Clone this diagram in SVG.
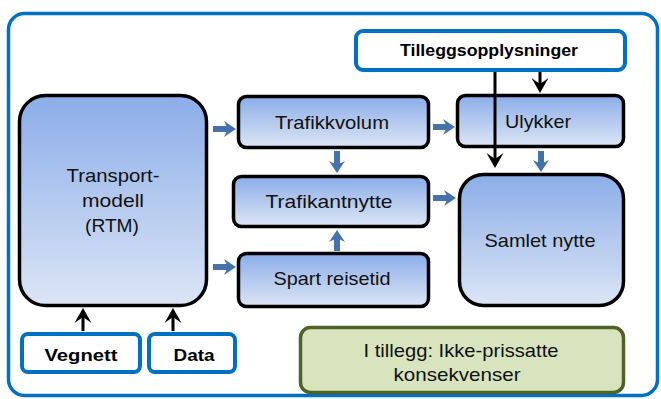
<svg xmlns="http://www.w3.org/2000/svg" width="661" height="399" viewBox="0 0 661 399">
  <defs>
    <linearGradient id="blueGrad" x1="0" y1="0" x2="0" y2="1">
      <stop offset="0" stop-color="#8BADE8"/>
      <stop offset="1" stop-color="#DCE5F5"/>
    </linearGradient>
    <marker id="headBlack" markerUnits="userSpaceOnUse" orient="auto" refX="-5" refY="0" overflow="visible">
      <path d="M0,0 L-15,-8.5 L-9,0 L-15,8.5 Z" fill="#000"/>
    </marker>
    <marker id="headBlue" markerUnits="userSpaceOnUse" orient="auto" refX="-5" refY="0" overflow="visible">
      <path d="M0,0 L-12,-8 L-8,0 L-12,8 Z" fill="#4572AA"/>
    </marker>
    <style>
      .frame{fill:#fff;stroke:#0070C0;stroke-width:3.5}
      .proc{fill:url(#blueGrad);stroke:#000;stroke-width:3.5}
      .input{fill:#fff;stroke:#0070C0;stroke-width:4}
      .note{fill:#D7E4BD;stroke:#4F6228;stroke-width:3.5}
      .t{font-family:"Liberation Sans",Arial,sans-serif;font-size:19px;fill:#111;text-anchor:middle}
      .tb{font-family:"Liberation Sans",Arial,sans-serif;font-size:16px;font-weight:bold;fill:#000;text-anchor:middle}
      .cb{stroke:#4572AA;stroke-width:6;fill:none;marker-end:url(#headBlue)}
      .ck{stroke:#000;stroke-width:3;fill:none;marker-end:url(#headBlack)}
    </style>
  </defs>

  <rect class="frame" x="8.5" y="13.5" width="649" height="382" rx="16"/>

  <g id="tilleggsopplysninger">
    <rect class="input" x="356" y="31" width="269" height="39" rx="7"/>
    <text class="tb" x="489" y="56" font-size="15" textLength="178" lengthAdjust="spacingAndGlyphs">Tilleggsopplysninger</text>
  </g>

  <g id="transportmodell">
    <rect class="proc" x="19.5" y="95.5" width="187" height="210" rx="26"/>
    <text class="t" x="113" y="182" textLength="93" lengthAdjust="spacingAndGlyphs">Transport-</text>
    <text class="t" x="113" y="207" textLength="62" lengthAdjust="spacingAndGlyphs">modell</text>
    <text class="t" x="112" y="232" textLength="54" lengthAdjust="spacingAndGlyphs">(RTM)</text>
  </g>

  <g id="trafikkvolum">
    <rect class="proc" x="238.5" y="96.5" width="190" height="51" rx="8"/>
    <text class="t" x="332" y="129" textLength="114" lengthAdjust="spacingAndGlyphs">Trafikkvolum</text>
  </g>

  <g id="trafikantnytte">
    <rect class="proc" x="233.5" y="176.5" width="195" height="50" rx="8"/>
    <text class="t" x="329" y="208" textLength="127" lengthAdjust="spacingAndGlyphs">Trafikantnytte</text>
  </g>

  <g id="spart-reisetid">
    <rect class="proc" x="238.5" y="253.5" width="190" height="53" rx="8"/>
    <text class="t" x="332" y="285" textLength="117" lengthAdjust="spacingAndGlyphs">Spart reisetid</text>
  </g>

  <g id="ulykker">
    <rect class="proc" x="457.5" y="95.5" width="166" height="51" rx="8"/>
    <text class="t" x="538" y="128" textLength="66" lengthAdjust="spacingAndGlyphs">Ulykker</text>
  </g>

  <g id="samlet-nytte">
    <rect class="proc" x="459.5" y="174.5" width="164" height="131" rx="24"/>
    <text class="t" x="540" y="247" textLength="111" lengthAdjust="spacingAndGlyphs">Samlet nytte</text>
  </g>

  <g id="vegnett">
    <rect class="input" x="22" y="334" width="118" height="38" rx="6"/>
    <text class="tb" x="81" y="361" font-size="17" textLength="73" lengthAdjust="spacingAndGlyphs">Vegnett</text>
  </g>

  <g id="data">
    <rect class="input" x="149" y="334" width="86" height="38" rx="6"/>
    <text class="tb" x="194" y="361" font-size="17" textLength="41" lengthAdjust="spacingAndGlyphs">Data</text>
  </g>

  <g id="ikke-prissatte">
    <rect class="note" x="300.5" y="327.5" width="323" height="65" rx="10"/>
    <text class="t" x="461" y="357" textLength="195" lengthAdjust="spacingAndGlyphs">I tillegg: Ikke-prissatte</text>
    <text class="t" x="457" y="381" textLength="127" lengthAdjust="spacingAndGlyphs">konsekvenser</text>
  </g>

  <g id="connectors">
    <line class="cb" x1="213" y1="129" x2="231" y2="129"/>
    <line class="cb" x1="213" y1="267" x2="231" y2="267"/>
    <line class="cb" x1="433" y1="127" x2="450" y2="127"/>
    <line class="cb" x1="433" y1="198" x2="451" y2="198"/>
    <line class="cb" x1="337" y1="151" x2="337" y2="168"/>
    <line class="cb" x1="337" y1="251" x2="337" y2="235"/>
    <line class="cb" x1="541" y1="151" x2="541" y2="167"/>
    <line class="ck" x1="495" y1="72" x2="495" y2="163"/>
    <line class="ck" x1="540" y1="72" x2="540" y2="88"/>
    <line class="ck" x1="83" y1="331" x2="83" y2="313"/>
    <line class="ck" x1="173" y1="331" x2="173" y2="313"/>
  </g>
</svg>
